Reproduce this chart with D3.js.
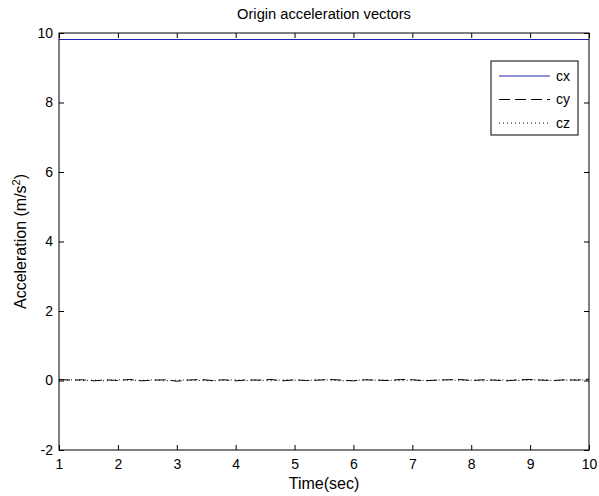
<!DOCTYPE html>
<html>
<head>
<meta charset="utf-8">
<script src="https://cdn.jsdelivr.net/npm/d3@7"></script>
<style>
  body { margin: 0; background: #fff; }
  text { font-family: "Liberation Sans", Arial, sans-serif; fill: #000; }
</style>
</head>
<body>
<svg id="chart" width="599" height="496"></svg>
<script>
// sample times (sec)
var time = [1.0, 1.2, 1.4, 1.6, 1.8, 2.0, 2.2, 2.4, 2.6, 2.8, 3.0, 3.2, 3.4, 3.6, 3.8,
  4.0, 4.2, 4.4, 4.6, 4.8, 5.0, 5.2, 5.4, 5.6, 5.8, 6.0, 6.2, 6.4, 6.6, 6.8, 7.0,
  7.2, 7.4, 7.6, 7.8, 8.0, 8.2, 8.4, 8.6, 8.8, 9.0, 9.2, 9.4, 9.6, 9.8, 10.0];

var cx = [9.81, 9.81, 9.81, 9.81, 9.81, 9.81, 9.81, 9.81, 9.81, 9.81, 9.81, 9.81, 9.81, 9.81, 9.81,
  9.81, 9.81, 9.81, 9.81, 9.81, 9.81, 9.81, 9.81, 9.81, 9.81, 9.81, 9.81, 9.81, 9.81, 9.81, 9.81,
  9.81, 9.81, 9.81, 9.81, 9.81, 9.81, 9.81, 9.81, 9.81, 9.81, 9.81, 9.81, 9.81, 9.81, 9.81];

var cy = [0.03, 0.01, 0.02, -0.01, 0.02, 0.00, 0.03, -0.01, 0.01, 0.02, -0.02, 0.01, 0.03, 0.00, 0.02,
  -0.01, 0.02, 0.01, 0.03, -0.01, 0.02, 0.00, 0.01, 0.03, 0.01, -0.01, 0.02, 0.01, 0.00, 0.03, 0.02,
  -0.01, 0.01, 0.02, 0.03, 0.00, 0.02, 0.01, -0.01, 0.02, 0.03, 0.01, 0.00, 0.02, 0.01, 0.04];

var cz = [0.01, 0.02, 0.00, 0.01, -0.01, 0.02, 0.01, 0.00, 0.02, -0.01, 0.01, 0.02, 0.00, -0.01, 0.01,
  0.02, 0.00, 0.01, -0.01, 0.02, 0.01, 0.00, 0.02, 0.01, -0.01, 0.00, 0.02, 0.01, 0.01, -0.01, 0.02,
  0.00, 0.01, 0.02, 0.00, 0.01, -0.01, 0.02, 0.01, 0.00, 0.01, 0.02, 0.00, 0.01, 0.02, 0.01];

var xTicks = [1, 2, 3, 4, 5, 6, 7, 8, 9, 10];
var yTicks = [-2, 0, 2, 4, 6, 8, 10];

var series = [
  { key: "cx", values: cx, color: "#2222a8", dash: null, crisp: true },
  { key: "cy", values: cy, color: "#000", dash: "11,5", crisp: false },
  { key: "cz", values: cz, color: "#000", dash: "1,3", crisp: false }
];

var margin = { top: 33, right: 10, bottom: 46, left: 59 };

var svg = d3.select("svg#chart");
var width = +svg.attr("width") - margin.left - margin.right;
var height = +svg.attr("height") - margin.top - margin.bottom;

var g = svg.append("g")
  .attr("transform", "translate(" + margin.left + "," + margin.top + ")");

var x = d3.scaleLinear().domain([1, 10]).range([0, width]);
var y = d3.scaleLinear().domain([-2, 10]).range([height, 0]);

var line = d3.line()
  .x(function (d, i) { return x(time[i]); })
  .y(function (d) { return y(d); });

g.selectAll("path.series")
  .data(series)
  .enter().append("path")
  .attr("class", "series")
  .attr("d", function (d) { return line(d.values); })
  .attr("fill", "none")
  .attr("stroke", function (d) { return d.color; })
  .attr("stroke-width", 1)
  .attr("shape-rendering", function (d) { return d.crisp ? "crispEdges" : null; })
  .attr("stroke-dasharray", function (d) { return d.dash; });

// plain hyphen for negatives, like matlab
var fmt = function (d) { return String(d); };

// axes, matlab style: ticks pointing inward on all four sides
function styleAxis(sel) {
  sel.select(".domain").remove();
  sel.selectAll("line").attr("stroke", "#000");
  sel.selectAll("text").style("font-size", "14px");
}

g.append("g")
  .attr("transform", "translate(0," + height + ")")
  .call(d3.axisBottom(x).tickValues(xTicks).tickSize(-5).tickPadding(9).tickFormat(fmt))
  .call(styleAxis);

g.append("g")
  .call(d3.axisTop(x).tickValues(xTicks).tickSize(-5).tickFormat(""))
  .call(styleAxis);

g.append("g")
  .call(d3.axisLeft(y).tickValues(yTicks).tickSize(-5).tickPadding(6).tickFormat(fmt))
  .call(styleAxis);

g.append("g")
  .attr("transform", "translate(" + width + ",0)")
  .call(d3.axisRight(y).tickValues(yTicks).tickSize(-5).tickFormat(""))
  .call(styleAxis);

g.append("rect")
  .attr("width", width)
  .attr("height", height)
  .attr("fill", "none")
  .attr("stroke", "#000")
  .attr("stroke-width", 1);

// title and labels
svg.append("text")
  .attr("x", margin.left + width / 2)
  .attr("y", 19)
  .attr("text-anchor", "middle")
  .style("font-size", "14.7px")
  .text("Origin acceleration vectors");

svg.append("text")
  .attr("x", margin.left + width / 2)
  .attr("y", 489)
  .attr("text-anchor", "middle")
  .style("font-size", "16px")
  .text("Time(sec)");

var yl = svg.append("text")
  .attr("transform", "translate(26," + (margin.top + height / 2) + ") rotate(-90)")
  .attr("text-anchor", "middle")
  .style("font-size", "16px");
yl.append("tspan").text("Acceleration (m/s");
yl.append("tspan").attr("dy", -6).style("font-size", "11px").text("2");
yl.append("tspan").attr("dy", 6).text(")");

// legend
var legend = svg.append("g").attr("transform", "translate(491,61)");
legend.append("rect")
  .attr("width", 87)
  .attr("height", 74)
  .attr("fill", "#fff")
  .attr("stroke", "#000");

var item = legend.selectAll("g.item")
  .data(series)
  .enter().append("g")
  .attr("class", "item")
  .attr("transform", function (d, i) { return "translate(0," + (15 + i * 23.5) + ")"; });

item.append("line")
  .attr("x1", 8).attr("x2", 59)
  .attr("stroke", function (d) { return d.color; })
  .attr("stroke-dasharray", function (d) { return d.dash; });

item.append("text")
  .attr("x", 65)
  .attr("dy", "0.35em")
  .style("font-size", "14px")
  .text(function (d) { return d.key; });
</script>
</body>
</html>
